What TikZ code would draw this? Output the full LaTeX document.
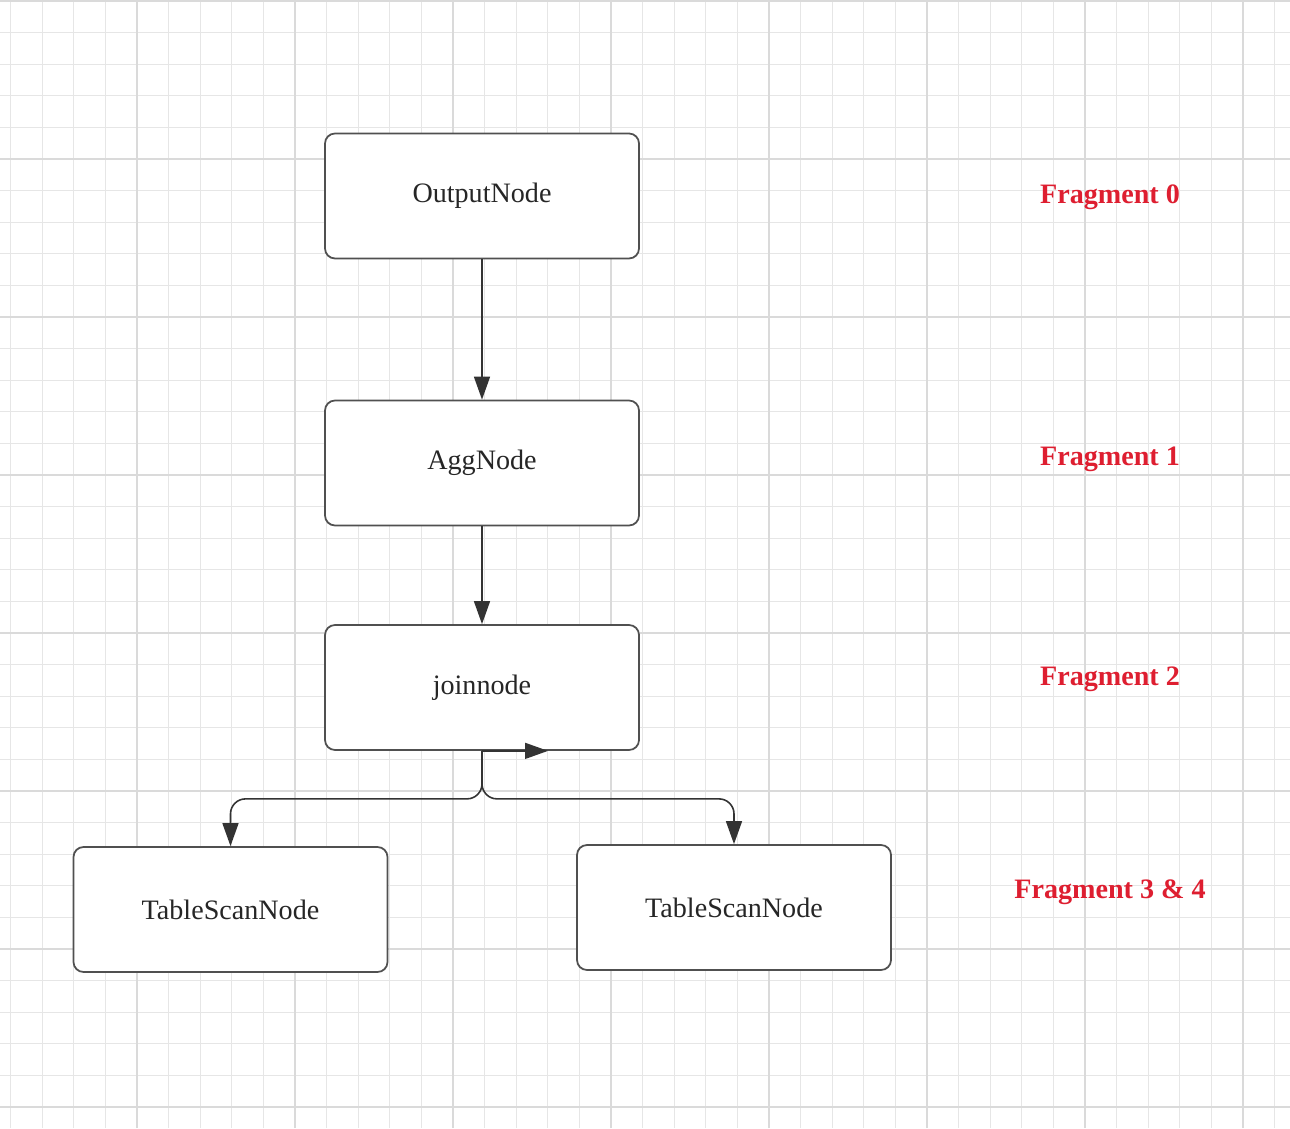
\documentclass[tikz,border=0pt]{standalone}
\usepackage{fontspec}
\setmainfont{Liberation Serif}
\usetikzlibrary{arrows.meta}
\definecolor{gridminor}{RGB}{230,230,230}
\definecolor{gridmajor}{RGB}{218,218,218}
\definecolor{fragred}{RGB}{222,30,48}
\definecolor{boxline}{RGB}{80,80,80}
\definecolor{flowline}{RGB}{51,51,51}
\tikzset{
	planbox/.style={draw=boxline, line width=1pt, rounded corners=0.2cm, minimum width=6.28cm, minimum height=2.5cm, font=\fontsize{16}{19}\selectfont, text=black!85},
	fraglabel/.style={text=fragred, font=\fontsize{16}{19}\selectfont\bfseries},
	flow/.style={draw=flowline, line width=0.9pt, -{Triangle[length=0.46cm,width=0.32cm]}},
}
\begin{document}
\begin{tikzpicture}
			\useasboundingbox (0,0) rectangle (25.8,22.56);
			\fill[white] (0,0) rectangle (25.8,22.56);
			\begin{scope}
			\clip (0,0) rectangle (25.8,22.56);
			% background grid
			\foreach \i in {0,...,42} {
				\draw[gridminor, line width=0.7pt] ({-0.42+0.632*\i},0) -- ++(0,22.56);
			}
			\foreach \j in {0,...,35} {
				\draw[gridminor, line width=0.7pt] (0,{0.42+0.632*\j}) -- ++(25.8,0);
			}
			\foreach \i in {0,...,8} {
				\draw[gridmajor, line width=0.9pt] ({-0.42+3.16*\i},0) -- ++(0,22.56);
				\draw[gridmajor, line width=0.9pt] (0,{0.42+3.16*\i}) -- ++(25.8,0);
			}
			\end{scope}
			% plan nodes
			\node[planbox, fill=white] (out) at (9.64,18.64) {OutputNode};
			\node[planbox, fill=white] (agg) at (9.64,13.30) {AggNode};
			\node[planbox, fill=white] (join) at (9.64,8.81) {joinnode};
			\node[planbox, fill=white] (scanl) at (4.61,4.37) {TableScanNode};
			\node[planbox, fill=white] (scanr) at (14.68,4.41) {TableScanNode};
			% fragments
			\node[fraglabel] (frag0) at (22.2,18.62) {Fragment 0};
			\node[fraglabel] (frag1) at (22.2,13.38) {Fragment 1};
			\node[fraglabel] (frag2) at (22.2,8.98) {Fragment 2};
			\node[fraglabel] (frag3) at (22.2,4.72) {Fragment 3 \& 4};
			% connectors
			\draw[flow] (out.south) -- (agg.north);
			\draw[flow] (agg.south) -- (join.north);
			\draw[flow, rounded corners=0.3cm] (join.south) -- ++(0,-0.96) -| (scanl.north);
			\draw[flow, rounded corners=0.3cm] (join.south) -- ++(0,-0.96) -| (scanr.north);
			\draw[flow] (join.south) -- ++(1.32,0);
		\end{tikzpicture}
\end{document}
